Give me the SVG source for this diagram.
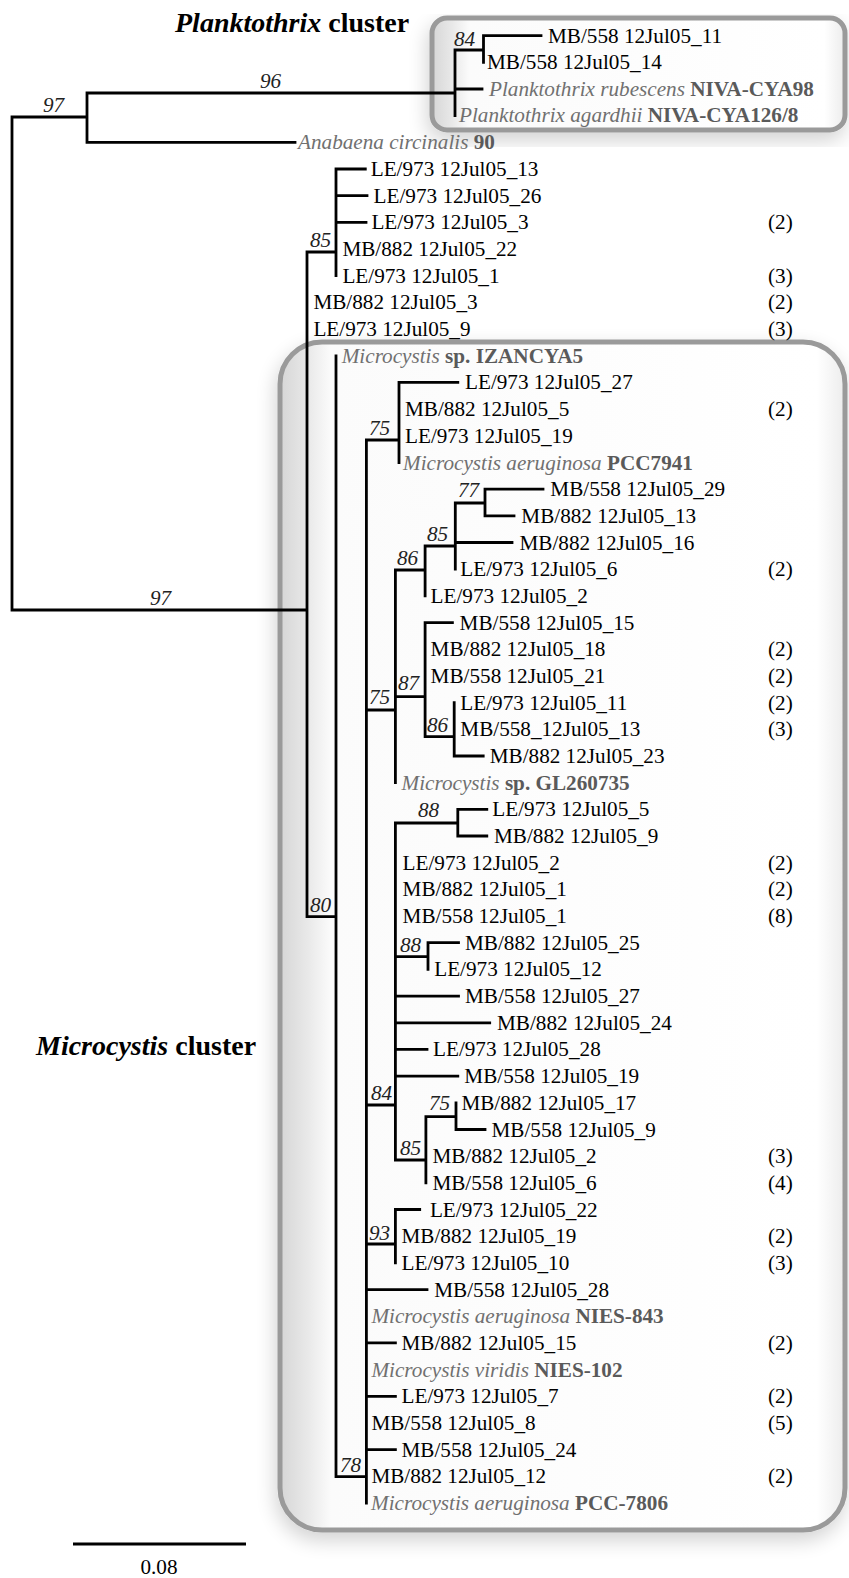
<svg xmlns="http://www.w3.org/2000/svg" width="849" height="1578" viewBox="0 0 849 1578">
<style>
text{font-family:"Liberation Serif","Times New Roman",serif;font-size:21.2px;fill:#000}
.bs{font-style:italic;fill:#222}
.cnt{fill:#000}
.sp{font-style:italic;fill:#707070}
.st{font-weight:bold;fill:#5a5a5a}
.title{font-size:28px;font-weight:bold;fill:#000}
.tree{fill:none;stroke:#000;stroke-width:2.8;stroke-linecap:square}
.box{stroke:#9a9a9a;stroke-width:5}
</style>
<defs>
<linearGradient id="gfill" x1="0" y1="0" x2="1" y2="0">
<stop offset="0" stop-color="#d6d6d6"/>
<stop offset="0.05" stop-color="#e9e9e9"/>
<stop offset="0.09" stop-color="#fbfbfb"/>
<stop offset="0.95" stop-color="#ffffff"/>
<stop offset="1" stop-color="#ececec"/>
</linearGradient>
<filter id="shadow" x="-10%" y="-10%" width="120%" height="125%">
<feGaussianBlur in="SourceAlpha" stdDeviation="10"/>
<feOffset dx="-2" dy="8" result="b"/>
<feComponentTransfer><feFuncA type="linear" slope="0.18"/></feComponentTransfer>
<feMerge><feMergeNode/><feMergeNode in="SourceGraphic"/></feMerge>
</filter>
</defs>
<rect width="849" height="1578" fill="#fff"/>

<g id="boxes">
<rect id="planktothrix-box" class="box" x="432" y="18" width="413" height="112" rx="15" fill="url(#gfill)" filter="url(#shadow)"/>
<rect id="microcystis-box" class="box" x="280" y="342" width="565" height="1188" rx="42" fill="url(#gfill)" filter="url(#shadow)"/>
</g>

<g id="titles">
<text class="title" x="175" y="32"><tspan font-style="italic">Planktothrix</tspan> cluster</text>
<text class="title" x="36" y="1055"><tspan font-style="italic">Microcystis</tspan> cluster</text>
</g>

<g id="connectors">
<path class="tree" d="M12,117V610 M12,117H87 M12,610H307 M87,93V142.3 M87,93H455 M87,142.3H295 M455,50V115.6 M455,50H483.5 M483.5,35.6V62.3 M483.5,35.6H541 M455,89H482
M307,252V916.7 M307,252H336 M307,916.7H336 M336,169V275.7 M336,169H365.3 M336,195.7H367 M336,222.4H366
M336,355.8V1476.7 M336,1476.7H366.4
M366.4,440V1503 M366.4,440H399 M366.4,710H395.4 M366.4,1105H395.4 M366.4,1244H395.4 M366.4,1289.6H427 M366.4,1342.9H395.4 M366.4,1396.3H395.4 M366.4,1449.6H395.4
M399,382.4V462.5 M399,382.4H457.8
M395.4,570V782.6 M395.4,570H425.1 M395.4,696.7H425.1
M425.1,546V595.9 M425.1,546H455.3 M455.3,503V569.2 M455.3,503H485 M455.3,542.5H512 M485,489.2V515.8 M485,489.2H543 M485,515.8H514
M425.1,622.6V736.7 M425.1,622.6H452.4 M425.1,736.7H454.2 M454.2,702.6V756 M454.2,756H483.2
M395.4,823V1160 M395.4,823H457.8 M457.8,809.3V836 M457.8,809.3H486.8 M457.8,836H486.8
M395.4,956.7H428 M428,942.7V969.4 M428,942.7H458.5
M395.4,996.1H458.5 M395.4,1022.8H489.7 M395.4,1049.4H427 M395.4,1076.1H457.8
M395.4,1160H425.9 M425.9,1116.7V1182.8 M425.9,1116.7H456 M456,1102.8V1129.5 M456,1129.5H485
M395.4,1209.5V1262.9 M395.4,1209.5H419.7"/>
</g>

<g id="bootstrap">
<text class="bs" x="43" y="112">97</text>
<text class="bs" x="260" y="88">96</text>
<text class="bs" x="454" y="46">84</text>
<text class="bs" x="150" y="605">97</text>
<text class="bs" x="310" y="247">85</text>
<text class="bs" x="369" y="435">75</text>
<text class="bs" x="458" y="497">77</text>
<text class="bs" x="427" y="541">85</text>
<text class="bs" x="397" y="565">86</text>
<text class="bs" x="369" y="704">75</text>
<text class="bs" x="398" y="690">87</text>
<text class="bs" x="427" y="732">86</text>
<text class="bs" x="418" y="817">88</text>
<text class="bs" x="310" y="912">80</text>
<text class="bs" x="400" y="952">88</text>
<text class="bs" x="371" y="1100">84</text>
<text class="bs" x="429" y="1110">75</text>
<text class="bs" x="400" y="1155">85</text>
<text class="bs" x="369" y="1240">93</text>
<text class="bs" x="340" y="1472">78</text>
</g>

<g id="leaves">
<g id="n-mb558-11"><text x="548" y="42.6">MB/558 12Jul05_11</text></g>
<g id="n-mb558-14"><text x="487" y="69.3">MB/558 12Jul05_14</text></g>
<g id="n-p-rubescens"><text x="489" y="96"><tspan class="sp">Planktothrix rubescens </tspan><tspan class="st">NIVA-CYA98</tspan></text></g>
<g id="n-p-agardhii"><text x="459" y="122"><tspan class="sp">Planktothrix agardhii </tspan><tspan class="st">NIVA-CYA126/8</tspan></text></g>
<g id="n-anabaena"><text x="298" y="149.3"><tspan class="sp">Anabaena circinalis </tspan><tspan class="st">90</tspan></text></g>
<g id="n-le973-13"><text x="370.7" y="176">LE/973 12Jul05_13</text></g>
<g id="n-le973-26"><text x="373.6" y="202.7">LE/973 12Jul05_26</text></g>
<g id="n-le973-3"><text x="371.4" y="229.4">LE/973 12Jul05_3</text><text class="cnt" x="768" y="229.4">(2)</text></g>
<g id="n-mb882-22"><text x="342.4" y="256">MB/882 12Jul05_22</text></g>
<g id="n-le973-1"><text x="342.4" y="282.7">LE/973 12Jul05_1</text><text class="cnt" x="768" y="282.7">(3)</text></g>
<g id="n-mb882-3"><text x="313.4" y="309.4">MB/882 12Jul05_3</text><text class="cnt" x="768" y="309.4">(2)</text></g>
<g id="n-le973-9"><text x="313.4" y="336.1">LE/973 12Jul05_9</text><text class="cnt" x="768" y="336.1">(3)</text></g>
<g id="n-izancya5"><text x="341.7" y="362.8"><tspan class="sp">Microcystis </tspan><tspan class="st">sp. IZANCYA5</tspan></text></g>
<g id="n-le973-27"><text x="465" y="389.4">LE/973 12Jul05_27</text></g>
<g id="n-mb882-5"><text x="405" y="416.1">MB/882 12Jul05_5</text><text class="cnt" x="768" y="416.1">(2)</text></g>
<g id="n-le973-19"><text x="405" y="442.8">LE/973 12Jul05_19</text></g>
<g id="n-pcc7941"><text x="403" y="469.5"><tspan class="sp">Microcystis aeruginosa </tspan><tspan class="st">PCC7941</tspan></text></g>
<g id="n-mb558-29"><text x="550.3" y="496.2">MB/558 12Jul05_29</text></g>
<g id="n-mb882-13"><text x="521.3" y="522.8">MB/882 12Jul05_13</text></g>
<g id="n-mb882-16"><text x="519.5" y="549.5">MB/882 12Jul05_16</text></g>
<g id="n-le973-6"><text x="460.3" y="576.2">LE/973 12Jul05_6</text><text class="cnt" x="768" y="576.2">(2)</text></g>
<g id="n-le973-2a"><text x="430.6" y="602.9">LE/973 12Jul05_2</text></g>
<g id="n-mb558-15"><text x="459.6" y="629.6">MB/558 12Jul05_15</text></g>
<g id="n-mb882-18"><text x="430.6" y="656.2">MB/882 12Jul05_18</text><text class="cnt" x="768" y="656.2">(2)</text></g>
<g id="n-mb558-21"><text x="430.6" y="682.9">MB/558 12Jul05_21</text><text class="cnt" x="768" y="682.9">(2)</text></g>
<g id="n-le973-11"><text x="460.3" y="709.6">LE/973 12Jul05_11</text><text class="cnt" x="768" y="709.6">(2)</text></g>
<g id="n-mb558-13"><text x="460.3" y="736.3">MB/558_12Jul05_13</text><text class="cnt" x="768" y="736.3">(3)</text></g>
<g id="n-mb882-23"><text x="489.7" y="763">MB/882 12Jul05_23</text></g>
<g id="n-gl260735"><text x="401.5" y="789.6"><tspan class="sp">Microcystis </tspan><tspan class="st">sp. GL260735</tspan></text></g>
<g id="n-le973-5"><text x="492.3" y="816.3">LE/973 12Jul05_5</text></g>
<g id="n-mb882-9"><text x="494" y="843">MB/882 12Jul05_9</text></g>
<g id="n-le973-2b"><text x="402.6" y="869.7">LE/973 12Jul05_2</text><text class="cnt" x="768" y="869.7">(2)</text></g>
<g id="n-mb882-1"><text x="402.6" y="896.4">MB/882 12Jul05_1</text><text class="cnt" x="768" y="896.4">(2)</text></g>
<g id="n-mb558-1"><text x="402.6" y="923">MB/558 12Jul05_1</text><text class="cnt" x="768" y="923">(8)</text></g>
<g id="n-mb882-25"><text x="465" y="949.7">MB/882 12Jul05_25</text></g>
<g id="n-le973-12"><text x="434.2" y="976.4">LE/973 12Jul05_12</text></g>
<g id="n-mb558-27"><text x="465" y="1003.1">MB/558 12Jul05_27</text></g>
<g id="n-mb882-24"><text x="497" y="1029.8">MB/882 12Jul05_24</text></g>
<g id="n-le973-28"><text x="433" y="1056.4">LE/973 12Jul05_28</text></g>
<g id="n-mb558-19"><text x="464.3" y="1083.1">MB/558 12Jul05_19</text></g>
<g id="n-mb882-17"><text x="461.4" y="1109.8">MB/882 12Jul05_17</text></g>
<g id="n-mb558-9"><text x="491.5" y="1136.5">MB/558 12Jul05_9</text></g>
<g id="n-mb882-2"><text x="432.4" y="1163.2">MB/882 12Jul05_2</text><text class="cnt" x="768" y="1163.2">(3)</text></g>
<g id="n-mb558-6"><text x="432.4" y="1189.8">MB/558 12Jul05_6</text><text class="cnt" x="768" y="1189.8">(4)</text></g>
<g id="n-le973-22"><text x="429.9" y="1216.5">LE/973 12Jul05_22</text></g>
<g id="n-mb882-19"><text x="401.5" y="1243.2">MB/882 12Jul05_19</text><text class="cnt" x="768" y="1243.2">(2)</text></g>
<g id="n-le973-10"><text x="401.5" y="1269.9">LE/973 12Jul05_10</text><text class="cnt" x="768" y="1269.9">(3)</text></g>
<g id="n-mb558-28"><text x="434.2" y="1296.6">MB/558 12Jul05_28</text></g>
<g id="n-nies843"><text x="371.4" y="1323.2"><tspan class="sp">Microcystis aeruginosa </tspan><tspan class="st">NIES-843</tspan></text></g>
<g id="n-mb882-15"><text x="401.5" y="1349.9">MB/882 12Jul05_15</text><text class="cnt" x="768" y="1349.9">(2)</text></g>
<g id="n-nies102"><text x="371.4" y="1376.6"><tspan class="sp">Microcystis viridis </tspan><tspan class="st">NIES-102</tspan></text></g>
<g id="n-le973-7"><text x="401.5" y="1403.3">LE/973 12Jul05_7</text><text class="cnt" x="768" y="1403.3">(2)</text></g>
<g id="n-mb558-8"><text x="371.4" y="1430">MB/558 12Jul05_8</text><text class="cnt" x="768" y="1430">(5)</text></g>
<g id="n-mb558-24"><text x="401.5" y="1456.6">MB/558 12Jul05_24</text></g>
<g id="n-mb882-12"><text x="371.4" y="1483.3">MB/882 12Jul05_12</text><text class="cnt" x="768" y="1483.3">(2)</text></g>
<g id="n-pcc7806"><text x="371" y="1510"><tspan class="sp">Microcystis aeruginosa </tspan><tspan class="st">PCC-7806</tspan></text></g>
</g>

<g id="scale">
<path d="M73,1544H246" stroke="#000" stroke-width="3"/>
<text x="159" y="1574" text-anchor="middle">0.08</text>
</g>
</svg>
